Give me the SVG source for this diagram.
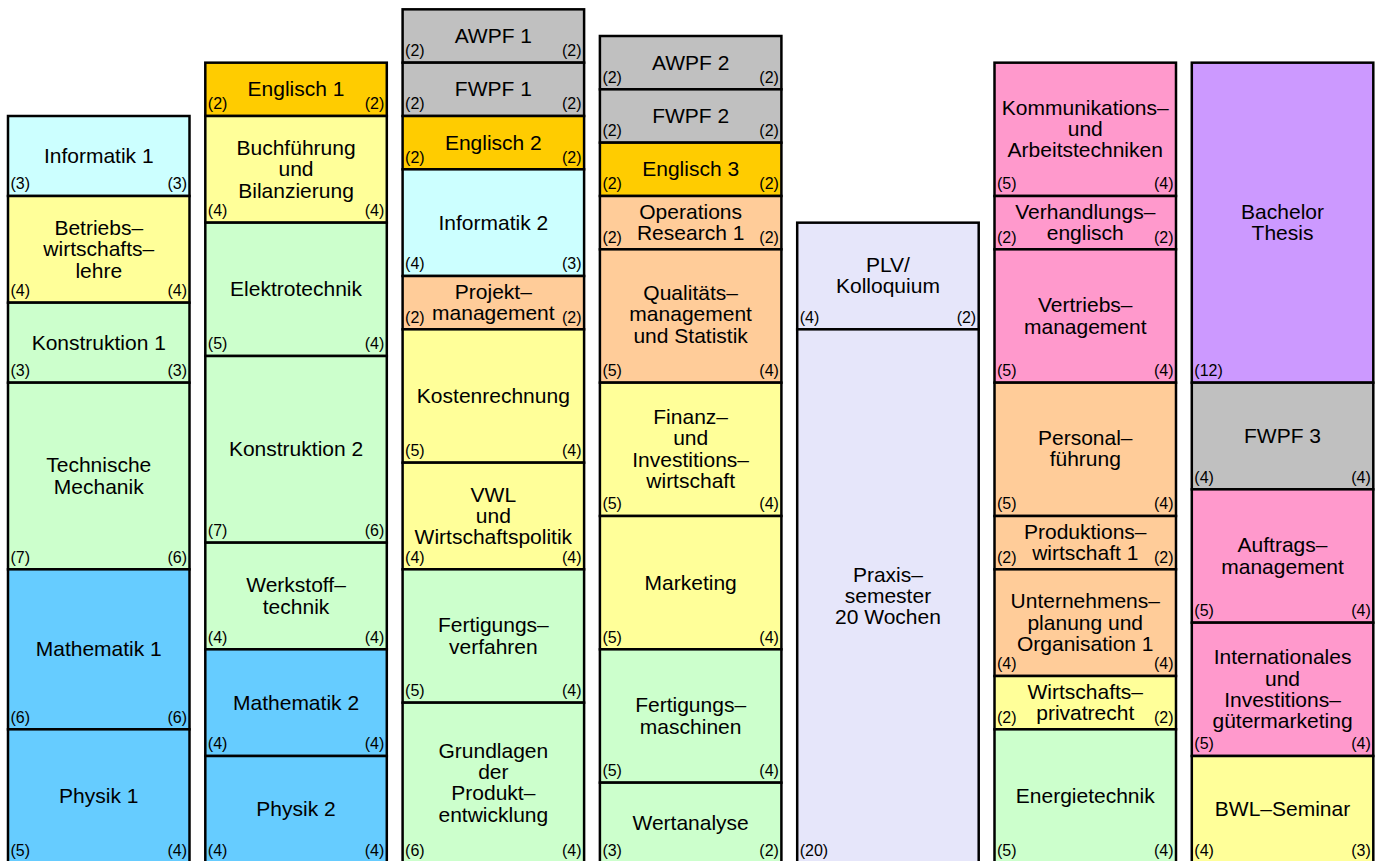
<svg xmlns="http://www.w3.org/2000/svg" width="1381" height="861" viewBox="0 0 1381 861">
<style>
rect{stroke:#000;stroke-width:2.5}
text{font-family:"Liberation Sans",Arial,Helvetica,sans-serif;fill:#000}
.t{font-size:21px;text-anchor:middle}
.n{font-size:16px}
.r{text-anchor:end}
.cy{fill:#CCFFFF}.ye{fill:#FFFF99}.gr{fill:#CCFFCC}.bl{fill:#66CCFF}.en{fill:#FFCC00}.gy{fill:#C0C0C0}.pe{fill:#FFCC99}.pk{fill:#FF99CC}.lv{fill:#E6E6FA}.pu{fill:#CC99FF}
</style>
<rect x="0" y="0" width="1381" height="861" style="fill:#fff;stroke:none"/>
<g id="connectors"/>

<!-- Column 1 -->
<g id="informatik1"><rect class="cy" x="8" y="116" width="181.5" height="80"/><text class="t" x="98.75" y="163">Informatik 1</text><text class="n" x="10.5" y="189.3">(3)</text><text class="n r" x="187" y="189.3">(3)</text></g>
<g id="bwl"><rect class="ye" x="8" y="196" width="181.5" height="106.67"/><text class="t" x="98.75" y="235">Betriebs–</text><text class="t" x="98.75" y="256.3">wirtschafts–</text><text class="t" x="98.75" y="277.6">lehre</text><text class="n" x="10.5" y="296">(4)</text><text class="n r" x="187" y="296">(4)</text></g>
<g id="konstruktion1"><rect class="gr" x="8" y="302.67" width="181.5" height="80"/><text class="t" x="98.75" y="349.7">Konstruktion 1</text><text class="n" x="10.5" y="376">(3)</text><text class="n r" x="187" y="376">(3)</text></g>
<g id="techmechanik"><rect class="gr" x="8" y="382.67" width="181.5" height="186.67"/><text class="t" x="98.75" y="472.35">Technische</text><text class="t" x="98.75" y="493.65">Mechanik</text><text class="n" x="10.5" y="562.7">(7)</text><text class="n r" x="187" y="562.7">(6)</text></g>
<g id="mathematik1"><rect class="bl" x="8" y="569.33" width="181.5" height="160"/><text class="t" x="98.75" y="656.3">Mathematik 1</text><text class="n" x="10.5" y="722.7">(6)</text><text class="n r" x="187" y="722.7">(6)</text></g>
<g id="physik1"><rect class="bl" x="8" y="729.33" width="181.5" height="133.33"/><text class="t" x="98.75" y="803">Physik 1</text><text class="n" x="10.5" y="856">(5)</text><text class="n r" x="187" y="856">(4)</text></g>

<!-- Column 2 -->
<g id="englisch1"><rect class="en" x="205.3" y="62.67" width="181.5" height="53.33"/><text class="t" x="296.05" y="96.3">Englisch 1</text><text class="n" x="207.8" y="109.3">(2)</text><text class="n r" x="384.3" y="109.3">(2)</text></g>
<g id="buchfuehrung"><rect class="ye" x="205.3" y="116" width="181.5" height="106.67"/><text class="t" x="296.05" y="155">Buchführung</text><text class="t" x="296.05" y="176.3">und</text><text class="t" x="296.05" y="197.6">Bilanzierung</text><text class="n" x="207.8" y="216">(4)</text><text class="n r" x="384.3" y="216">(4)</text></g>
<g id="elektrotechnik"><rect class="gr" x="205.3" y="222.67" width="181.5" height="133.33"/><text class="t" x="296.05" y="296.3">Elektrotechnik</text><text class="n" x="207.8" y="349.3">(5)</text><text class="n r" x="384.3" y="349.3">(4)</text></g>
<g id="konstruktion2"><rect class="gr" x="205.3" y="356" width="181.5" height="186.67"/><text class="t" x="296.05" y="456.3">Konstruktion 2</text><text class="n" x="207.8" y="536">(7)</text><text class="n r" x="384.3" y="536">(6)</text></g>
<g id="werkstofftechnik"><rect class="gr" x="205.3" y="542.67" width="181.5" height="106.67"/><text class="t" x="296.05" y="592.35">Werkstoff–</text><text class="t" x="296.05" y="613.65">technik</text><text class="n" x="207.8" y="642.7">(4)</text><text class="n r" x="384.3" y="642.7">(4)</text></g>
<g id="mathematik2"><rect class="bl" x="205.3" y="649.33" width="181.5" height="106.67"/><text class="t" x="296.05" y="709.7">Mathematik 2</text><text class="n" x="207.8" y="749.3">(4)</text><text class="n r" x="384.3" y="749.3">(4)</text></g>
<g id="physik2"><rect class="bl" x="205.3" y="756" width="181.5" height="106.67"/><text class="t" x="296.05" y="816.3">Physik 2</text><text class="n" x="207.8" y="856">(4)</text><text class="n r" x="384.3" y="856">(4)</text></g>

<!-- Column 3 -->
<g id="awpf1"><rect class="gy" x="402.6" y="9.33" width="181.5" height="53.33"/><text class="t" x="493.35" y="43">AWPF 1</text><text class="n" x="405.1" y="56">(2)</text><text class="n r" x="581.6" y="56">(2)</text></g>
<g id="fwpf1"><rect class="gy" x="402.6" y="62.67" width="181.5" height="53.33"/><text class="t" x="493.35" y="96.3">FWPF 1</text><text class="n" x="405.1" y="109.3">(2)</text><text class="n r" x="581.6" y="109.3">(2)</text></g>
<g id="englisch2"><rect class="en" x="402.6" y="116" width="181.5" height="53.33"/><text class="t" x="493.35" y="149.7">Englisch 2</text><text class="n" x="405.1" y="162.7">(2)</text><text class="n r" x="581.6" y="162.7">(2)</text></g>
<g id="informatik2"><rect class="cy" x="402.6" y="169.33" width="181.5" height="106.67"/><text class="t" x="493.35" y="229.7">Informatik 2</text><text class="n" x="405.1" y="269.3">(4)</text><text class="n r" x="581.6" y="269.3">(3)</text></g>
<g id="projektmanagement"><rect class="pe" x="402.6" y="276" width="181.5" height="53.33"/><text class="t" x="493.35" y="299">Projekt–</text><text class="t" x="493.35" y="320.3">management</text><text class="n" x="405.1" y="322.7">(2)</text><text class="n r" x="581.6" y="322.7">(2)</text></g>
<g id="kostenrechnung"><rect class="ye" x="402.6" y="329.33" width="181.5" height="133.33"/><text class="t" x="493.35" y="403">Kostenrechnung</text><text class="n" x="405.1" y="456">(5)</text><text class="n r" x="581.6" y="456">(4)</text></g>
<g id="vwl"><rect class="ye" x="402.6" y="462.67" width="181.5" height="106.67"/><text class="t" x="493.35" y="501.7">VWL</text><text class="t" x="493.35" y="523">und</text><text class="t" x="493.35" y="544.3">Wirtschaftspolitik</text><text class="n" x="405.1" y="562.7">(4)</text><text class="n r" x="581.6" y="562.7">(4)</text></g>
<g id="fertigungsverfahren"><rect class="gr" x="402.6" y="569.33" width="181.5" height="133.33"/><text class="t" x="493.35" y="632.35">Fertigungs–</text><text class="t" x="493.35" y="653.65">verfahren</text><text class="n" x="405.1" y="696">(5)</text><text class="n r" x="581.6" y="696">(4)</text></g>
<g id="produktentwicklung"><rect class="gr" x="402.6" y="702.67" width="181.5" height="160"/><text class="t" x="493.35" y="757.7">Grundlagen</text><text class="t" x="493.35" y="779">der</text><text class="t" x="493.35" y="800.3">Produkt–</text><text class="t" x="493.35" y="821.6">entwicklung</text><text class="n" x="405.1" y="856">(6)</text><text class="n r" x="581.6" y="856">(4)</text></g>

<!-- Column 4 -->
<g id="awpf2"><rect class="gy" x="599.9" y="36" width="181.5" height="53.33"/><text class="t" x="690.65" y="69.7">AWPF 2</text><text class="n" x="602.4" y="82.7">(2)</text><text class="n r" x="778.9" y="82.7">(2)</text></g>
<g id="fwpf2"><rect class="gy" x="599.9" y="89.33" width="181.5" height="53.33"/><text class="t" x="690.65" y="123">FWPF 2</text><text class="n" x="602.4" y="136">(2)</text><text class="n r" x="778.9" y="136">(2)</text></g>
<g id="englisch3"><rect class="en" x="599.9" y="142.67" width="181.5" height="53.33"/><text class="t" x="690.65" y="176.3">Englisch 3</text><text class="n" x="602.4" y="189.3">(2)</text><text class="n r" x="778.9" y="189.3">(2)</text></g>
<g id="operationsresearch1"><rect class="pe" x="599.9" y="196" width="181.5" height="53.33"/><text class="t" x="690.65" y="219">Operations</text><text class="t" x="690.65" y="240.3">Research 1</text><text class="n" x="602.4" y="242.7">(2)</text><text class="n r" x="778.9" y="242.7">(2)</text></g>
<g id="qualitaetsmanagement"><rect class="pe" x="599.9" y="249.33" width="181.5" height="133.33"/><text class="t" x="690.65" y="300">Qualitäts–</text><text class="t" x="690.65" y="321.3">management</text><text class="t" x="690.65" y="342.6">und Statistik</text><text class="n" x="602.4" y="376">(5)</text><text class="n r" x="778.9" y="376">(4)</text></g>
<g id="finanzwirtschaft"><rect class="ye" x="599.9" y="382.67" width="181.5" height="133.33"/><text class="t" x="690.65" y="424">Finanz–</text><text class="t" x="690.65" y="445.3">und</text><text class="t" x="690.65" y="466.6">Investitions–</text><text class="t" x="690.65" y="487.9">wirtschaft</text><text class="n" x="602.4" y="509.3">(5)</text><text class="n r" x="778.9" y="509.3">(4)</text></g>
<g id="marketing"><rect class="ye" x="599.9" y="516" width="181.5" height="133.33"/><text class="t" x="690.65" y="589.7">Marketing</text><text class="n" x="602.4" y="642.7">(5)</text><text class="n r" x="778.9" y="642.7">(4)</text></g>
<g id="fertigungsmaschinen"><rect class="gr" x="599.9" y="649.33" width="181.5" height="133.33"/><text class="t" x="690.65" y="712.35">Fertigungs–</text><text class="t" x="690.65" y="733.65">maschinen</text><text class="n" x="602.4" y="776">(5)</text><text class="n r" x="778.9" y="776">(4)</text></g>
<g id="wertanalyse"><rect class="gr" x="599.9" y="782.67" width="181.5" height="80"/><text class="t" x="690.65" y="829.7">Wertanalyse</text><text class="n" x="602.4" y="856">(3)</text><text class="n r" x="778.9" y="856">(2)</text></g>

<!-- Column 5 -->
<g id="plv"><rect class="lv" x="797.2" y="222.67" width="181.5" height="106.67"/><text class="t" x="887.95" y="271.5">PLV/</text><text class="t" x="887.95" y="292.8">Kolloquium</text><text class="n" x="799.7" y="322.7">(4)</text><text class="n r" x="976.2" y="322.7">(2)</text></g>
<g id="praxissemester"><rect class="lv" x="797.2" y="329.33" width="181.5" height="533.33"/><text class="t" x="887.95" y="581.7">Praxis–</text><text class="t" x="887.95" y="603">semester</text><text class="t" x="887.95" y="624.3">20 Wochen</text><text class="n" x="799.7" y="856">(20)</text></g>

<!-- Column 6 -->
<g id="kommunikation"><rect class="pk" x="994.5" y="62.67" width="181.5" height="133.33"/><text class="t" x="1085.25" y="114.5">Kommunikations–</text><text class="t" x="1085.25" y="135.8">und</text><text class="t" x="1085.25" y="157.1">Arbeitstechniken</text><text class="n" x="997" y="189.3">(5)</text><text class="n r" x="1173.5" y="189.3">(4)</text></g>
<g id="verhandlungsenglisch"><rect class="pk" x="994.5" y="196" width="181.5" height="53.33"/><text class="t" x="1085.25" y="219">Verhandlungs–</text><text class="t" x="1085.25" y="240.3">englisch</text><text class="n" x="997" y="242.7">(2)</text><text class="n r" x="1173.5" y="242.7">(2)</text></g>
<g id="vertriebsmanagement"><rect class="pk" x="994.5" y="249.33" width="181.5" height="133.33"/><text class="t" x="1085.25" y="312.35">Vertriebs–</text><text class="t" x="1085.25" y="333.65">management</text><text class="n" x="997" y="376">(5)</text><text class="n r" x="1173.5" y="376">(4)</text></g>
<g id="personalfuehrung"><rect class="pe" x="994.5" y="382.67" width="181.5" height="133.33"/><text class="t" x="1085.25" y="444.5">Personal–</text><text class="t" x="1085.25" y="465.8">führung</text><text class="n" x="997" y="509.3">(5)</text><text class="n r" x="1173.5" y="509.3">(4)</text></g>
<g id="produktionswirtschaft1"><rect class="pe" x="994.5" y="516" width="181.5" height="53.33"/><text class="t" x="1085.25" y="538.5">Produktions–</text><text class="t" x="1085.25" y="559.8">wirtschaft 1</text><text class="n" x="997" y="562.7">(2)</text><text class="n r" x="1173.5" y="562.7">(2)</text></g>
<g id="unternehmensplanung"><rect class="pe" x="994.5" y="569.33" width="181.5" height="106.67"/><text class="t" x="1085.25" y="608.4">Unternehmens–</text><text class="t" x="1085.25" y="629.7">planung und</text><text class="t" x="1085.25" y="651">Organisation 1</text><text class="n" x="997" y="669.3">(4)</text><text class="n r" x="1173.5" y="669.3">(4)</text></g>
<g id="wirtschaftsprivatrecht"><rect class="ye" x="994.5" y="676" width="181.5" height="53.33"/><text class="t" x="1085.25" y="699">Wirtschafts–</text><text class="t" x="1085.25" y="720.3">privatrecht</text><text class="n" x="997" y="722.7">(2)</text><text class="n r" x="1173.5" y="722.7">(2)</text></g>
<g id="energietechnik"><rect class="gr" x="994.5" y="729.33" width="181.5" height="133.33"/><text class="t" x="1085.25" y="803">Energietechnik</text><text class="n" x="997" y="856">(5)</text><text class="n r" x="1173.5" y="856">(4)</text></g>

<!-- Column 7 -->
<g id="bachelorthesis"><rect class="pu" x="1191.8" y="62.67" width="181.5" height="320"/><text class="t" x="1282.55" y="219">Bachelor</text><text class="t" x="1282.55" y="240.3">Thesis</text><text class="n" x="1194.3" y="376">(12)</text></g>
<g id="fwpf3"><rect class="gy" x="1191.8" y="382.67" width="181.5" height="106.67"/><text class="t" x="1282.55" y="443">FWPF 3</text><text class="n" x="1194.3" y="482.7">(4)</text><text class="n r" x="1370.8" y="482.7">(4)</text></g>
<g id="auftragsmanagement"><rect class="pk" x="1191.8" y="489.33" width="181.5" height="133.33"/><text class="t" x="1282.55" y="552.35">Auftrags–</text><text class="t" x="1282.55" y="573.65">management</text><text class="n" x="1194.3" y="616">(5)</text><text class="n r" x="1370.8" y="616">(4)</text></g>
<g id="investitionsguetermarketing"><rect class="pk" x="1191.8" y="622.67" width="181.5" height="133.33"/><text class="t" x="1282.55" y="664.4">Internationales</text><text class="t" x="1282.55" y="685.7">und</text><text class="t" x="1282.55" y="707">Investitions–</text><text class="t" x="1282.55" y="728.3">gütermarketing</text><text class="n" x="1194.3" y="749.3">(5)</text><text class="n r" x="1370.8" y="749.3">(4)</text></g>
<g id="bwlseminar"><rect class="ye" x="1191.8" y="756" width="181.5" height="106.67"/><text class="t" x="1282.55" y="816.3">BWL–Seminar</text><text class="n" x="1194.3" y="856">(4)</text><text class="n r" x="1370.8" y="856">(3)</text></g>
</svg>
